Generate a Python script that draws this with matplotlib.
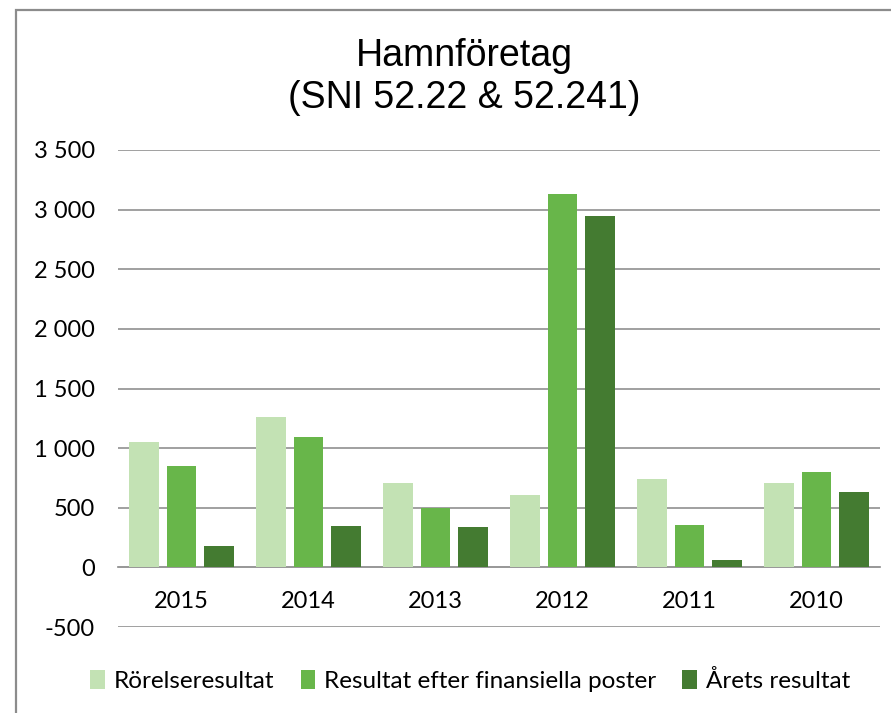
import matplotlib
matplotlib.use("Agg")
import matplotlib.pyplot as plt
from matplotlib.patches import Rectangle
import numpy as np

categories = ["2015", "2014", "2013", "2012", "2011", "2010"]
rorelse = [1050, 1260, 705, 607, 745, 707]
efter_fin = [849, 1097, 500, 3130, 355, 801]
arets = [179, 349, 335, 2943, 62, 628]
series_names = ["Rörelseresultat", "Resultat efter finansiella poster", "Årets resultat"]
colors = ["#c3e2b4", "#68b64a", "#447b31"]
yticks = [-500, 0, 500, 1000, 1500, 2000, 2500, 3000, 3500]

W, H = 891, 713
fig = plt.figure(figsize=(W / 100, H / 100), dpi=100)
fig.patch.set_facecolor("white")

# outer frame
fig.patches.append(Rectangle((16 / W, -0.1), 1.2, 1 - 10 / H + 0.1, transform=fig.transFigure,
                             fill=False, edgecolor="#8c8c8c", linewidth=1.6))

ax = fig.add_axes([118 / W, 1 - 627 / H, (880 - 118) / W, (627 - 150) / H])
ax.set_ylim(-500, 3500)
ax.set_xlim(-0.5, len(categories) - 0.5)

x = np.arange(len(categories))
step = 0.294
width = 0.236
for i, (vals, name, c) in enumerate(zip([rorelse, efter_fin, arets], series_names, colors)):
    ax.bar(x + (i - 1) * step, vals, width, color=c, label=name, zorder=3)

ax.set_yticks(yticks)
ax.set_yticklabels([f"{v:,}".replace(",", " ") for v in yticks], fontfamily="Lato", fontsize=17)
ax.yaxis.grid(True, color="#999999", linewidth=1.3, zorder=0)
ax.set_axisbelow(True)
ax.tick_params(axis="y", length=0, pad=16.5)

for s in ["top", "right", "left"]:
    ax.spines[s].set_visible(False)
ax.spines["bottom"].set_position(("data", 0))
ax.spines["bottom"].set_color("#999999")
ax.spines["bottom"].set_linewidth(1.3)
ax.set_xticks(x)
ax.set_xticklabels(categories, fontfamily="Lato", fontsize=17)
ax.tick_params(axis="x", length=0, pad=17)

fig.text(464 / W, 1 - 77 / H, "Hamnföretag\n(SNI 52.22 & 52.241)",
         ha="center", va="center", fontsize=27, fontfamily="Liberation Sans", linespacing=1.2)

leg = fig.legend(loc="center", bbox_to_anchor=(470 / W, 1 - 681 / H), ncol=3, frameon=False,
                 prop={"family": "Lato", "size": 17.5}, handlelength=0.6, handleheight=0.8,
                 handletextpad=0.35, columnspacing=1.1)

fig.savefig("out.png", dpi=100)
